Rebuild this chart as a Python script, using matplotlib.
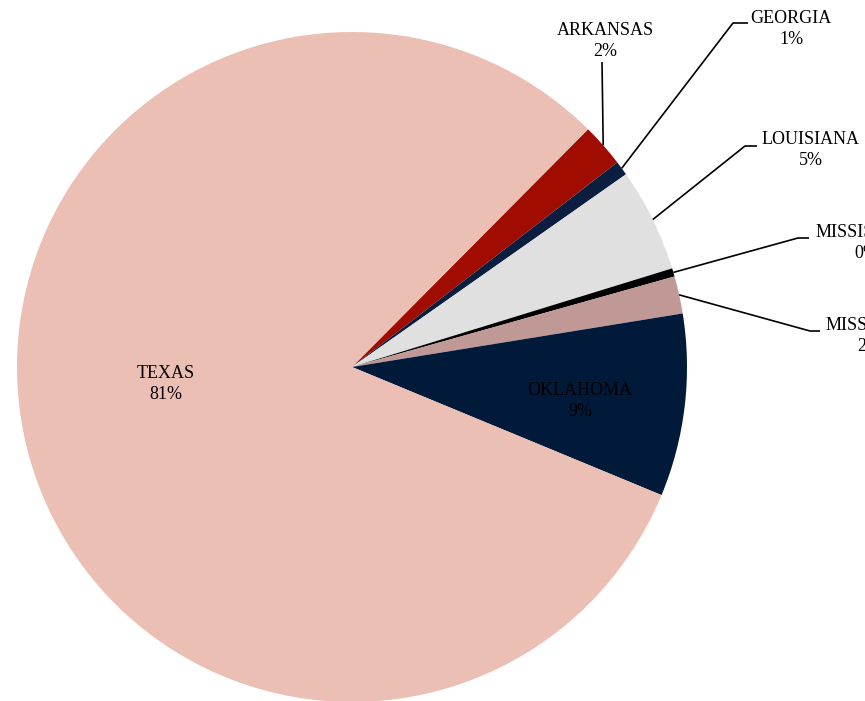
import matplotlib.pyplot as plt
import numpy as np

states = ['ARKANSAS', 'GEORGIA', 'LOUISIANA', 'MISSISSIPPI', 'MISSOURI', 'OKLAHOMA', 'TEXAS']
shares = [2.1, 0.7, 5.0, 0.4, 1.8, 8.8, 81.2]
colors = ['#A00C00', '#0B1E40', '#E0E0E0', '#000000', '#C09896', '#011A3A', '#ECBFB4']

W, H = 865, 701
CX, CY, R = 352, 367, 335

plt.rcParams['font.family'] = ['Liberation Serif', 'DejaVu Serif']

fig = plt.figure(figsize=(W / 100, H / 100), dpi=100)
ax = fig.add_axes([(CX - R) / W, (H - CY - R) / H, 2 * R / W, 2 * R / H])

wedges, _ = ax.pie(shares, colors=colors, startangle=45.2, counterclock=False,
                   radius=1, wedgeprops=dict(linewidth=0))
for w in wedges:
    w.set_clip_on(False)

# pie() sets its own limits, so fix them afterwards
ax.set_xlim(-1, 1)
ax.set_ylim(-1, 1)
ax.set_aspect('equal')
ax.axis('off')


def px(x, y):
    return (x - CX) / R, (CY - y) / R


labels = [f'{s}\n{round(v)}%' for s, v in zip(states, shares)]

# outside labels: text centre (pixels), elbow points (pixels)
outside = {
    0: ((605, 41), [(602, 62)]),
    1: ((791, 29), [(733, 23), (748, 23)]),
    2: ((811, 150), [(745, 146), (757, 146)]),
    3: ((866, 243), [(798, 238), (809, 238)]),
    4: ((869, 336), [(810, 331), (820, 331)]),
}
inside = {5: (580, 401), 6: (166, 384)}

for i, w in enumerate(wedges):
    if i in outside:
        (tx, ty), elbows = outside[i]
        mid = np.deg2rad((w.theta1 + w.theta2) / 2)
        xs = [np.cos(mid)] + [px(*p)[0] for p in elbows]
        ys = [np.sin(mid)] + [px(*p)[1] for p in elbows]
        ax.plot(xs, ys, color='black', lw=1.2, clip_on=False, solid_capstyle='butt')
        x, y = px(tx, ty)
    else:
        x, y = px(*inside[i])
    ax.text(x, y, labels[i], ha='center', va='center', fontsize=13,
            linespacing=1.35, color='black', clip_on=False)

fig.savefig('out.png', dpi=100)
